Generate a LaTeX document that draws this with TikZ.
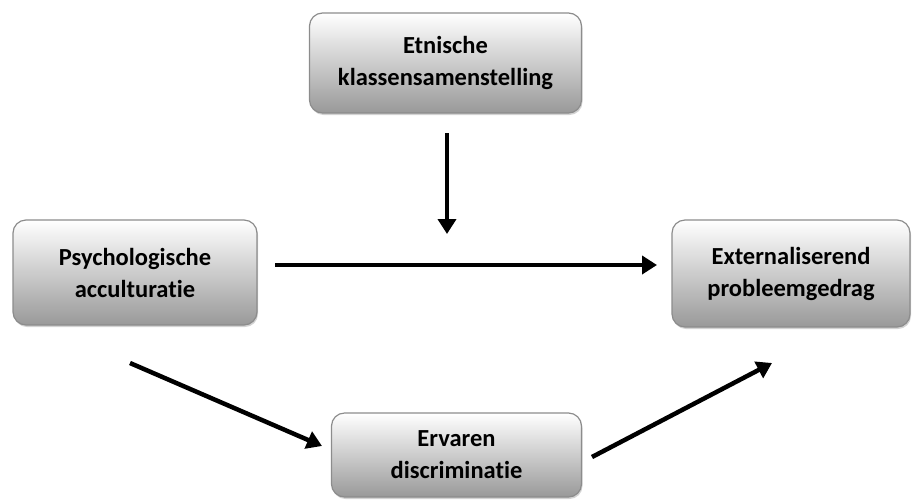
\documentclass[tikz,border=0pt]{standalone}
\usepackage{fontspec}
\setmainfont[Ligatures=NoCommon]{Carlito}
\usetikzlibrary{arrows.meta,shadows}
\begin{document}
\begin{tikzpicture}[x=1pt,y=-1pt,
  box/.style={rectangle, rounded corners=13pt, draw=black!45, line width=1.2pt,
    top color=white, bottom color=black!40,
    drop shadow={shadow xshift=1pt, shadow yshift=-2pt, opacity=0.35},
    align=center, font=\fontsize{24.5}{32}\selectfont\bfseries, inner sep=0pt},
  arr/.style={line width=4.5pt, -{Triangle[length=15pt,width=18pt]}}]
\useasboundingbox (0,0) rectangle (912,499);
\node[box, minimum width=272pt, minimum height=100pt] (top) at (445.5,63) {Etnische\\klassensamenstelling};
\node[box, minimum width=244pt, minimum height=105pt] (psy) at (135,272.5) {Psychologische\\acculturatie};
\node[box, minimum width=238pt, minimum height=107pt] (ext) at (791,273.5) {Externaliserend\\probleemgedrag};
\node[box, minimum width=250pt, minimum height=84pt] (dis) at (456.5,455) {Ervaren\\discriminatie};
\coordinate (v1) at (447,133);
\coordinate (v2) at (447,234);
\coordinate (h1) at (275,265);
\coordinate (h2) at (657,265);
\coordinate (d1) at (130,363);
\coordinate (d2) at (322,446);
\coordinate (e1) at (592,457);
\coordinate (e2) at (772,363);
\draw[arr] (v1) -- (v2);
\draw[arr] (h1) -- (h2);
\draw[arr] (d1) -- (d2);
\draw[arr] (e1) -- (e2);
\end{tikzpicture}
\end{document}
